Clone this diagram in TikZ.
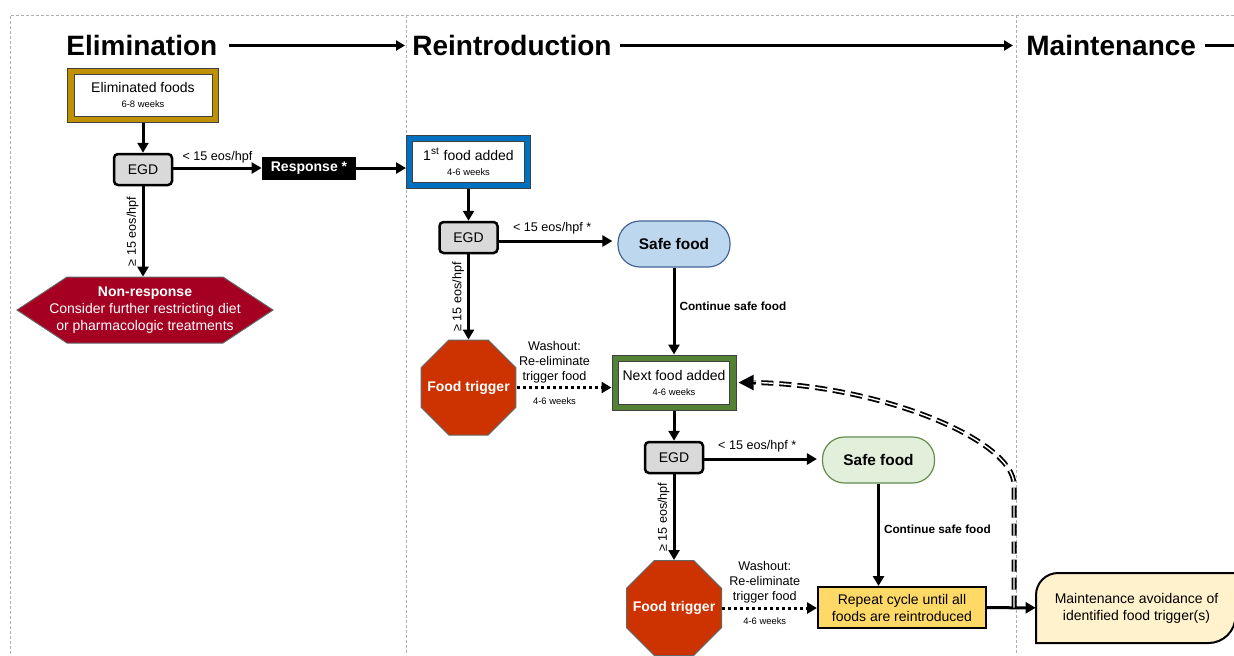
\documentclass[tikz,border=0pt]{standalone}
\usepackage{fontspec}
\setmainfont{Liberation Sans}
\usetikzlibrary{arrows.meta,shapes.geometric,positioning,backgrounds}

\definecolor{elimgold}{RGB}{191,144,0}
\definecolor{reintblue}{RGB}{0,112,192}
\definecolor{nextgreen}{RGB}{84,130,53}
\definecolor{egdgray}{RGB}{217,217,217}
\definecolor{nonred}{RGB}{165,0,33}
\definecolor{trigred}{RGB}{204,51,0}
\definecolor{safeblue}{RGB}{189,215,238}
\definecolor{safebluedraw}{RGB}{70,100,150}
\definecolor{safegreen}{RGB}{226,239,218}
\definecolor{safegreendraw}{RGB}{100,140,80}
\definecolor{repyellow}{RGB}{255,217,102}
\definecolor{maintyellow}{RGB}{255,242,204}
\definecolor{framegray}{RGB}{175,175,175}

\newcommand{\txtnorm}{\fontsize{7}{8.5}\selectfont}
\newcommand{\txtsmall}{\fontsize{4.7}{5.5}\selectfont}
\newcommand{\txtlab}{\fontsize{6.3}{7.6}\selectfont}
\newcommand{\txthead}{\fontsize{14}{16}\selectfont\bfseries}

\tikzset{
  headtxt/.style={inner sep=0pt, font=\txthead},
  headarrow/.style={line width=1.3pt, -{Triangle[length=4.5pt,width=5pt]}},
  framedash/.style={draw=framegray, line width=0.4pt, dash pattern=on 1.5pt off 1pt},
  stageouter/.style={draw=black!75, line width=0.5pt, inner sep=0pt},
  stageinner/.style={draw=black!75, line width=0.5pt, fill=white, inner sep=0pt,
    align=center, font=\txtnorm},
  egdbox/.style={draw, line width=1.25pt, rounded corners=2pt, fill=egdgray,
    minimum width=29pt, minimum height=15.5pt, inner sep=0pt, font=\txtnorm},
  respbox/.style={fill=black, text=white, minimum width=47pt, minimum height=11.5pt,
    inner sep=0pt, font=\txtnorm\bfseries},
  safebox/.style={line width=0.6pt, rounded corners=11pt, minimum width=56pt,
    minimum height=23pt, inner sep=0pt, font=\fontsize{7.7}{9}\selectfont\bfseries},
  trigbox/.style={regular polygon, regular polygon sides=8, minimum size=51.4pt,
    inner sep=0pt, fill=trigred, draw=black!60, line width=0.5pt},
  trigtxt/.style={inner sep=0pt, text=white, font=\txtnorm\bfseries},
  repbox/.style={draw, line width=1pt, fill=repyellow, minimum width=84pt,
    minimum height=20.5pt, inner sep=0pt, align=center, font=\txtnorm},
  maintbox/.style={minimum width=100.5pt, minimum height=35pt, inner sep=0pt,
    align=center, font=\txtnorm},
  nonrespbox/.style={minimum height=33pt, inner sep=0pt, align=center, text=white,
    font=\txtnorm},
  flowarrow/.style={line width=1.5pt, -{Triangle[length=5pt,width=5.5pt]}},
  washarrow/.style={line width=1.5pt, dash pattern=on 1.5pt off 1.5pt,
    -{Triangle[length=5pt,width=5.5pt]}},
  loopline/.style={double=white, double distance=0.7pt, line width=0.9pt,
    dash pattern=on 6pt off 3pt},
  looptip/.style={line width=1pt, -{Triangle[length=7.5pt,width=7.5pt]}},
  lab/.style={font=\txtlab, inner sep=1.5pt},
  boldlab/.style={font=\fontsize{5.9}{7}\selectfont\bfseries, inner sep=2pt}
}

\begin{document}
\begin{tikzpicture}[x=0.5pt,y=-0.5pt]

	\useasboundingbox (0,0) rectangle (1234,655);

	% frame
	\draw[framedash] (1234,15) -- (10,15) -- (10,655);
	\draw[framedash] (406,15) -- (406,655);
	\draw[framedash] (1016,15) -- (1016,655);

	% headings
	\node[headtxt, anchor=base west] (hElim) at (66,55.5) {Elimination};
	\node[headtxt, anchor=base west] (hReint) at (412,55.5) {Reintroduction};
	\node[headtxt, anchor=base west] (hMaint) at (1026,55.5) {Maintenance};
	\coordinate (hEnd) at ([xshift=30pt]hMaint.east);

	\draw[headarrow] ([xshift=5.5pt]hElim.east) -- ([xshift=-3.5pt]hReint.west);
	\draw[headarrow] ([xshift=4pt]hReint.east) -- ([xshift=-6.5pt]hMaint.west);
	\draw[headarrow] ([xshift=4.5pt]hMaint.east) -- (hEnd);

	% elimination
	\node[stageouter, fill=elimgold, minimum width=75.5pt, minimum height=27pt] (elim) at (143,95) {};
	\node[stageinner, minimum width=69pt, minimum height=21pt] (elimIn) at (elim)
		{Eliminated foods\\[-1pt]{\txtsmall 6-8 weeks}};

	\node[egdbox] (egd1) at (143,169.5) {EGD};
	\node[respbox] (resp) at (309,168) {Response *};
	\node[nonrespbox] (nonresp) at (145,310)
		{\textbf{Non-response}\\Consider further restricting diet\\or pharmacologic treatments};

	\begin{scope}[on background layer]
		\filldraw[fill=nonred, draw=black!60, line width=0.5pt, shift={(nonresp.center)}]
			(-39pt,16.5pt) -- (39pt,16.5pt) -- (64pt,0pt) -- (39pt,-16.5pt)
			-- (-39pt,-16.5pt) -- (-64pt,0pt) -- cycle;
	\end{scope}

	\draw[flowarrow] (elim) -- (egd1);
	\draw[flowarrow] (egd1.east |- resp) -- node[lab, above] {< 15 eos/hpf} (resp);
	\draw[flowarrow] (egd1) -- node[lab, midway, rotate=90, anchor=south] {≥ 15 eos/hpf} (egd1 |- nonresp.north);

	% reintroduction, first round
	\node[stageouter, fill=reintblue, minimum width=62pt, minimum height=26.5pt] (first) at (468.5,161.5) {};
	\node[stageinner, minimum width=56pt, minimum height=20.5pt] (firstIn) at (first)
		{1\textsuperscript{st} food added\\[-1pt]{\txtsmall 4-6 weeks}};

	\node[egdbox] (egd2) at (468.5,237.5) {EGD};
	\node[safebox, fill=safeblue, draw=safebluedraw] (safe1) at (674,244) {Safe food};
	\node[trigbox] (trig1) at (468.5,387.5) {};
	\node[trigtxt] (trig1txt) at (trig1) {Food trigger};

	\node[stageouter, fill=nextgreen, minimum width=62pt, minimum height=27.5pt] (next) at (674,382.5) {};
	\node[stageinner, minimum width=55.5pt, minimum height=21.5pt] (nextIn) at (next)
		{Next food added\\[-1pt]{\txtsmall 4-6 weeks}};

	\draw[flowarrow] (resp) -- (resp -| first.west);
	\draw[flowarrow] (first) -- (egd2);
	\draw[flowarrow, shorten >=2.5pt] (egd2.east |- 0,241) -- node[lab, above=1pt, pos=0.45] {< 15 eos/hpf *} (safe1.west |- 0,241);
	\draw[flowarrow] (egd2) -- node[lab, midway, rotate=90, anchor=south] {≥ 15 eos/hpf} (trig1);
	\draw[flowarrow] (safe1) -- node[boldlab, right, pos=0.45] {Continue safe food} (next);
	\draw[washarrow] (trig1.east) -- node[lab, above, pos=0.4, align=center] {Washout:\\Re-eliminate\\trigger food}
		node[below=1pt, pos=0.4, font=\txtsmall] {4-6 weeks} (trig1.east -| next.west);

	% reintroduction, next rounds
	\node[egdbox] (egd3) at (674,457.5) {EGD};
	\node[safebox, fill=safegreen, draw=safegreendraw] (safe2) at (878.5,460) {Safe food};
	\node[trigbox] (trig2) at (674,608) {};
	\node[trigtxt] (trig2txt) at (trig2) {Food trigger};
	\node[repbox] (rep) at (902,607.5) {Repeat cycle until all\\foods are reintroduced};

	\draw[flowarrow] (next) -- (egd3);
	\draw[flowarrow, shorten >=2.5pt] (egd3.east |- 0,459) -- node[lab, above=1pt, pos=0.45] {< 15 eos/hpf *} (safe2.west |- 0,459);
	\draw[flowarrow] (egd3) -- node[lab, midway, rotate=90, anchor=south] {≥ 15 eos/hpf} (trig2);
	\draw[flowarrow] (safe2) -- node[boldlab, right, pos=0.45] {Continue safe food} (safe2 |- rep.north);
	\draw[washarrow] (trig2.east) -- node[lab, above, pos=0.45, align=center] {Washout:\\Re-eliminate\\trigger food}
		node[below=1pt, pos=0.45, font=\txtsmall] {4-6 weeks} (trig2.east -| rep.west);

	% maintenance
	\node[maintbox] (maint) at (1136.5,608) {Maintenance avoidance of\\identified food trigger(s)};
	\begin{scope}[on background layer]
		\filldraw[fill=maintyellow, draw=black, line width=1pt, shift={(maint.center)}]
			(-50.25pt,-17.5pt) -- (-50.25pt,6.5pt) arc[start angle=180, end angle=90, radius=11pt]
			-- (49.5pt,17.5pt) -- (49.5pt,-4pt) arc[start angle=0, end angle=-90, radius=13.5pt]
			-- cycle;
	\end{scope}

	\draw[flowarrow] (rep) -- (maint);

	% back to next food
	\coordinate (loopFoot) at (1014,607.5);
	\coordinate (loopBend) at (1014,485);
	\draw[loopline] (loopFoot) -- (loopBend) .. controls (1014,440) and (880,385) .. ([xshift=9pt]next.east);
	\draw[looptip] ([xshift=9.5pt]next.east) -- ([xshift=1pt]next.east);

\end{tikzpicture}
\end{document}
